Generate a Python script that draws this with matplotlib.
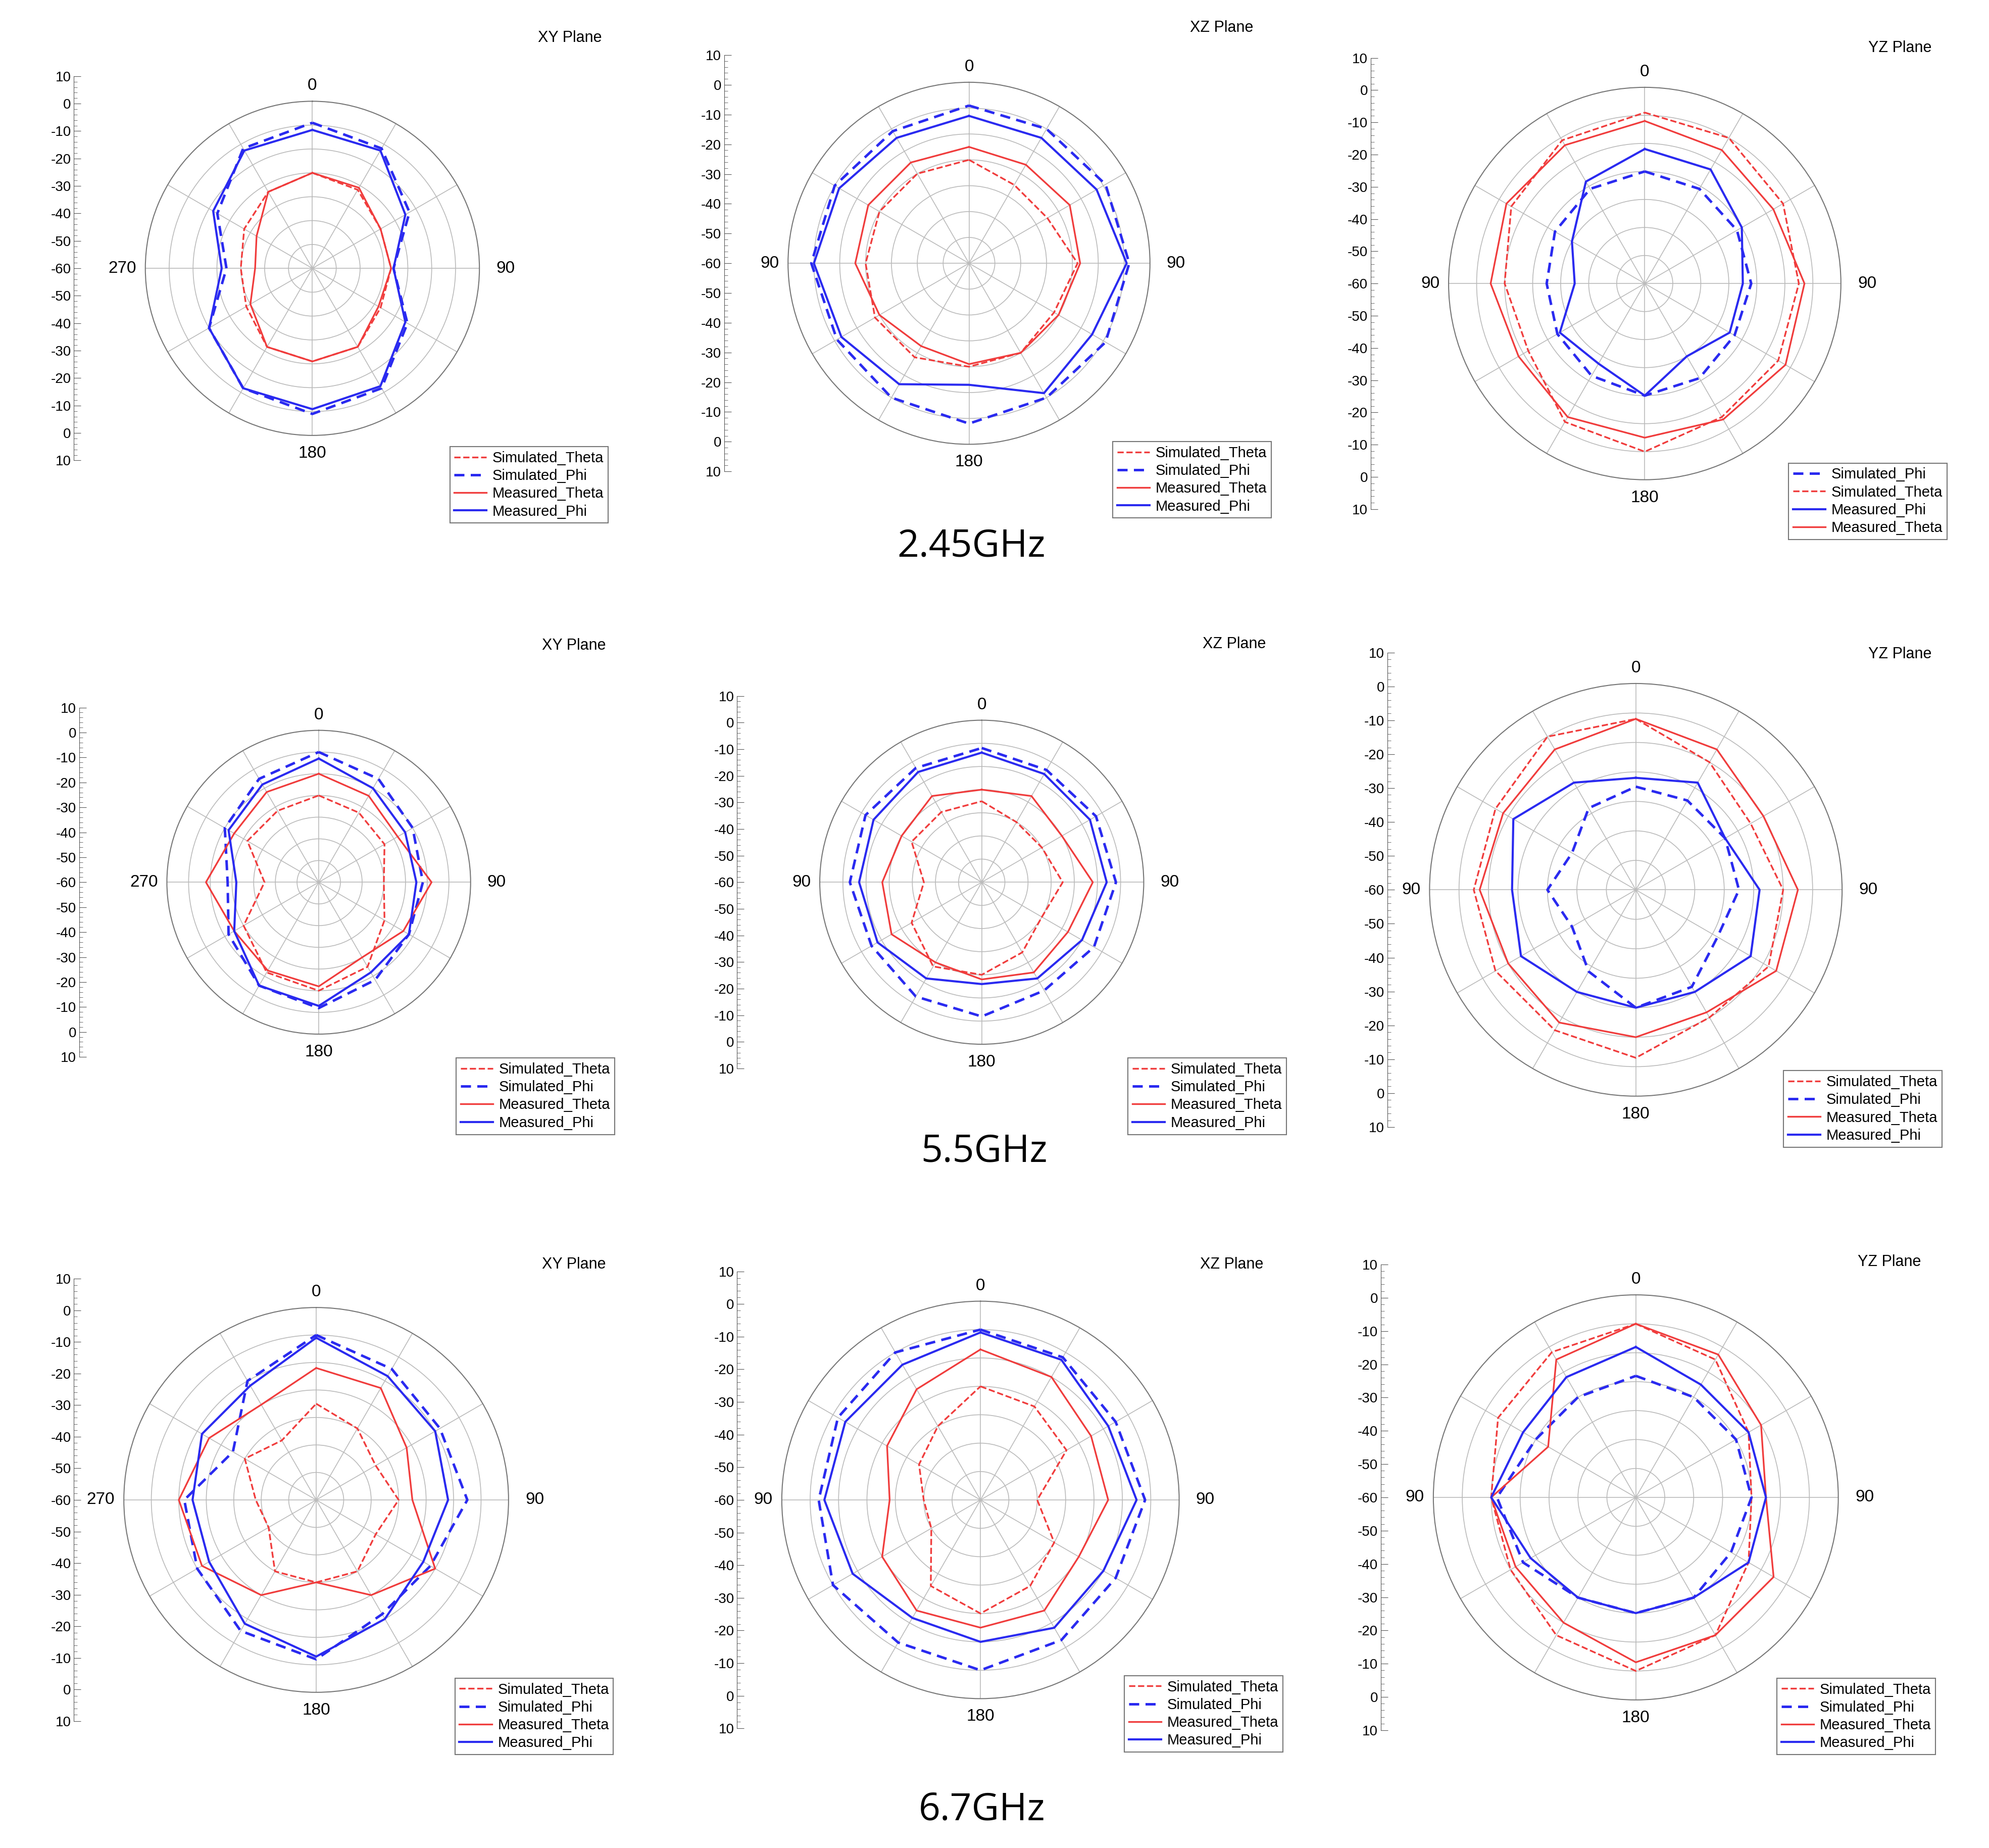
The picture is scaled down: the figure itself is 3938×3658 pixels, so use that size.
import matplotlib
matplotlib.use('Agg')
import matplotlib.pyplot as plt
import numpy as np

# angles (deg, clockwise from top) shared by every series
ANG = [0, 30, 60, 90, 120, 150, 180, 210, 240, 270, 300, 330]

# ---- 2.45 GHz ----
p1_sim_theta = [-20, -22, -27, -27, -27, -22, -21, -22, -28, -30, -27, -23]
p1_sim_phi   = [1, -2, -13, -26, -14, -2, 1, -2, -10, -24, -14, -2]
p1_meas_theta = [-20, -21, -27, -27, -28, -22, -21, -22, -30, -36, -33, -23]
p1_meas_phi  = [-2, -3, -15, -26, -15, -3, -1, -2, -10, -22, -12, -3]

p2_sim_theta = [-20, -25, -25, -18, -22, -20, -20, -18, -18, -20, -20, -20]
p2_sim_phi   = [1, 0, 1, 2, 1, 0, 2, 0, -1, 1, 0, -1]
p2_meas_theta = [-15, -16, -15, -17, -20, -20, -21, -23, -20, -16, -15, -15]
p2_meas_phi  = [-3, -4, -3, 1, -5, -2, -13, -6, -3, 0, -2, -4]

p3_sim_phi   = [-20, -21, -22, -22, -23, -21, -20, -22, -24, -25, -23, -21]
p3_sim_theta = [1, 0, -3, -5, -5, -5, 0, -3, -12, -10, -5, -1]
p3_meas_phi  = [-12, -13, -20, -25, -25, -30, -20, -27, -25, -35, -30, -18]
p3_meas_theta = [-2, -5, -7, -3, -2, -4, -5, -5, -8, -5, -3, -3]

# ---- 5.5 GHz ----
p4_sim_theta = [-20, -23, -25, -30, -25, -15, -10, -12, -20, -35, -22, -22]
p4_sim_phi   = [0, -5, -10, -12, -12, -8, -2, -5, -12, -18, -10, -5]
p4_meas_theta = [-10, -14, -18, -8, -15, -20, -12, -13, -15, -8, -15, -12]
p4_meas_phi  = [-3, -10, -14, -15, -12, -12, -3, -5, -15, -22, -12, -8]

p5_sim_theta = [-25, -30, -30, -25, -30, -25, -20, -18, -25, -35, -25, -25]
p5_sim_phi   = [-2, -4, -3, -2, -4, -6, -2, -3, -5, -3, -2, -3]
p5_meas_theta = [-20, -17, -20, -12, -17, -15, -18, -20, -15, -17, -20, -17]
p5_meas_phi  = [-4, -6, -6, -6, -10, -12, -16, -12, -8, -7, -6, -5]

p6_sim_theta = [-2, -10, -15, -10, -8, -10, -3, -5, -5, -5, -5, 0]
p6_sim_phi   = [-25, -25, -25, -25, -28, -22, -20, -28, -35, -30, -35, -28]
p6_meas_theta = [-2, -5, -10, -5, -5, -12, -10, -8, -10, -7, -8, -5]
p6_meas_phi  = [-22, -18, -25, -18, -15, -20, -20, -20, -15, -18, -12, -18]

# ---- 6.7 GHz ----
p7_sim_theta = [-25, -30, -35, -30, -35, -30, -30, -30, -40, -38, -30, -35]
p7_sim_phi   = [0, -5, -8, -5, -12, -12, -2, -5, -10, -12, -25, -10]
p7_meas_theta = [-12, -13, -22, -25, -10, -20, -30, -20, -12, -10, -15, -20]
p7_meas_phi  = [-1, -8, -10, -12, -15, -10, -3, -8, -15, -15, -12, -12]

p8_sim_theta = [-20, -22, -25, -40, -30, -25, -20, -25, -40, -40, -35, -30]
p8_sim_phi   = [0, -2, -5, -2, -5, -3, 0, -2, 0, -3, -2, 0]
p8_meas_theta = [-7, -10, -15, -15, -20, -15, -15, -15, -20, -28, -22, -15]
p8_meas_phi  = [-1, -3, -8, -5, -10, -8, -10, -12, -8, -5, -5, -5]

p9_sim_theta = [0, -5, -15, -20, -15, -5, 0, -5, -10, -10, -5, -2]
p9_sim_phi   = [-18, -20, -20, -20, -22, -20, -20, -20, -15, -12, -20, -20]
p9_meas_theta = [0, -3, -10, -15, -5, -5, -3, -10, -12, -10, -25, -5]
p9_meas_phi  = [-8, -15, -15, -15, -15, -20, -20, -20, -18, -10, -15, -12]

LABELS = {'st': 'Simulated_Theta', 'sp': 'Simulated_Phi',
          'mt': 'Measured_Theta', 'mp': 'Measured_Phi'}
RED = '#f03c3c'
BLUE = '#2a2af0'
STYLE = {'st': dict(color=RED, ls='--', lw=2.4),
         'sp': dict(color=BLUE, ls=(0, (4, 2.5)), lw=3.6),
         'mt': dict(color=RED, ls='-', lw=2.4),
         'mp': dict(color=BLUE, ls='-', lw=3.0)}

# (series dict, legend order, plane, center x, center y, radius, scale x, legend box) in 1560x1460 px
panels = [
    (dict(st=p1_sim_theta, sp=p1_sim_phi, mt=p1_meas_theta, mp=p1_meas_phi), ['st', 'sp', 'mt', 'mp'],
     'XY', 245, 212, 132, 58, (347, 347)),
    (dict(st=p2_sim_theta, sp=p2_sim_phi, mt=p2_meas_theta, mp=p2_meas_phi), ['st', 'sp', 'mt', 'mp'],
     'XZ', 760, 208, 143, 568, (867, 343)),
    (dict(st=p3_sim_theta, sp=p3_sim_phi, mt=p3_meas_theta, mp=p3_meas_phi), ['sp', 'st', 'mp', 'mt'],
     'YZ', 1290, 224, 155, 1075, (1397, 360)),
    (dict(st=p4_sim_theta, sp=p4_sim_phi, mt=p4_meas_theta, mp=p4_meas_phi), ['st', 'sp', 'mt', 'mp'],
     'XY', 250, 697, 120, 62, (352, 830)),
    (dict(st=p5_sim_theta, sp=p5_sim_phi, mt=p5_meas_theta, mp=p5_meas_phi), ['st', 'sp', 'mt', 'mp'],
     'XZ', 770, 697, 128, 578, (879, 830)),
    (dict(st=p6_sim_theta, sp=p6_sim_phi, mt=p6_meas_theta, mp=p6_meas_phi), ['st', 'sp', 'mt', 'mp'],
     'YZ', 1283, 703, 163, 1088, (1393, 840)),
    (dict(st=p7_sim_theta, sp=p7_sim_phi, mt=p7_meas_theta, mp=p7_meas_phi), ['st', 'sp', 'mt', 'mp'],
     'XY', 248, 1185, 152, 58, (351, 1320)),
    (dict(st=p8_sim_theta, sp=p8_sim_phi, mt=p8_meas_theta, mp=p8_meas_phi), ['st', 'sp', 'mt', 'mp'],
     'XZ', 769, 1185, 157, 578, (876, 1318)),
    (dict(st=p9_sim_theta, sp=p9_sim_phi, mt=p9_meas_theta, mp=p9_meas_phi), ['st', 'sp', 'mt', 'mp'],
     'YZ', 1283, 1183, 160, 1083, (1388, 1320)),
]
title_pos = [(447, 30), (958, 22), (1490, 38), (450, 510), (968, 509), (1490, 517),
             (450, 999), (966, 999), (1482, 997)]
freqs = [('2.45GHz', 762, 432), ('5.5GHz', 772, 910), ('6.7GHz', 770, 1430)]

W, H = 1560.0, 1460.0
fig = plt.figure(figsize=(39.38, 36.58), dpi=100)
plt.rcParams['font.family'] = ['Liberation Sans', 'DejaVu Sans']


def fx(x):
    return x / W


def fy(y):
    return 1 - y / H


for (series, order, plane, cx, cy, r, sx, leg), (tx, ty) in zip(panels, title_pos):
    ax = fig.add_axes([fx(cx - r), fy(cy + r), 2 * r / W, 2 * r / H], projection='polar')
    ax.set_theta_zero_location('N')
    ax.set_theta_direction(-1)
    ax.set_rlim(-60, 10)
    ax.set_rticks([-50, -40, -30, -20, -10, 0])
    ax.set_yticklabels([])
    ax.set_thetagrids(range(0, 360, 30), [''] * 12)
    ax.grid(color='#bbbbbb', lw=1.2)
    ax.spines['polar'].set_color('#777777')
    ax.spines['polar'].set_linewidth(1.5)
    ax.tick_params(axis='x', pad=0)

    th = np.deg2rad(ANG + [360])
    handles = {}
    for k in ['st', 'sp', 'mt', 'mp']:
        v = series[k] + series[k][:1]
        handles[k], = ax.plot(th, v, label=LABELS[k], **STYLE[k])

    # angle labels
    left = '270' if plane == 'XY' else '90'
    for txt, px, py, ha, va in [('0', cx, cy - r - 6, 'center', 'bottom'),
                                ('90', cx + r + 12, cy, 'left', 'center'),
                                ('180', cx, cy + r + 8, 'center', 'top'),
                                (left, cx - r - 6, cy, 'right', 'center')]:
        fig.text(fx(px), fy(py), txt, ha=ha, va=va, fontsize=24)

    fig.text(fx(tx), fy(ty), plane + ' Plane', ha='center', va='center', fontsize=22)

    # linear dB scale on the left
    hs = r * 1.15
    sax = fig.add_axes([fx(sx - 4), fy(cy + hs), 4 / W, 2 * hs / H])
    sax.set_ylim(-70, 70)
    for s in ['top', 'bottom', 'right']:
        sax.spines[s].set_visible(False)
    sax.spines['left'].set_position(('axes', 1.0))
    sax.spines['left'].set_color('#555555')
    sax.set_xticks([])
    yt = np.arange(-70, 71, 10)
    sax.set_yticks(yt)
    sax.set_yticklabels([str(abs(v) - 60) for v in yt], fontsize=20)
    sax.set_yticks(np.arange(-70, 71, 2), minor=True)
    sax.tick_params(axis='y', which='major', length=10, direction='in', pad=4, colors='#555555',
                    labelcolor='black')
    sax.tick_params(axis='y', which='minor', length=5, direction='in', colors='#555555')
    sax.patch.set_alpha(0)

    lg = fig.legend([handles[k] for k in order], [LABELS[k] for k in order],
                    loc='upper left', bbox_to_anchor=(fx(leg[0]), fy(leg[1])),
                    fontsize=21, frameon=True, fancybox=False, borderpad=0.3,
                    labelspacing=0.25, handlelength=2.2, handletextpad=0.4)
    lg.get_frame().set_edgecolor('#555555')
    lg.get_frame().set_linewidth(1.5)

for txt, x, y in freqs:
    fig.text(fx(x), fy(y), txt, ha='center', va='center', fontsize=54, family=['Open Sans', 'DejaVu Sans'])

fig.savefig('out.png', dpi=100)
